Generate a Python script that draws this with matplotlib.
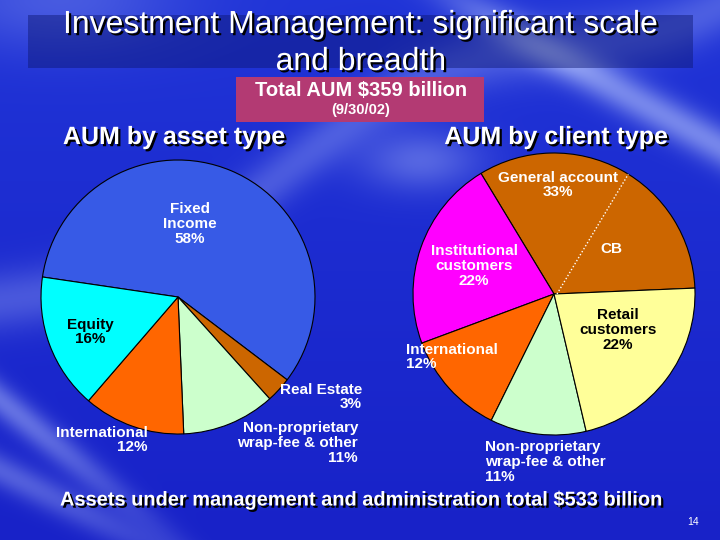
import numpy as np
import matplotlib
matplotlib.use('Agg')
import matplotlib.pyplot as plt
import matplotlib.patheffects as pe
from matplotlib.patches import Rectangle

# ---------------- data ----------------
asset_labels = ['Fixed\nIncome', 'Real Estate', 'Non-proprietary\nwrap-fee & other', 'International', 'Equity']
asset_values = [58, 3, 11, 12, 16]
asset_colors = ['#375AE6', '#CC6600', '#CCFFCC', '#FF6600', '#00FFFF']

client_labels = ['General account', 'Institutional\ncustomers', 'International',
                 'Non-proprietary\nwrap-fee & other', 'Retail\ncustomers']
client_values = [33, 22, 12, 11, 22]
client_colors = ['#CC6600', '#FF00FF', '#FF6600', '#CCFFCC', '#FFFF99']
cb_share = 15.5   # part of general account shown as CB (dotted split)

title_lines = ['Investment Management: significant scale', 'and breadth']
box_title = 'Total AUM $359 billion'
box_sub = '(9/30/02)'
left_title = 'AUM by asset type'
right_title = 'AUM by client type'
footer = 'Assets under management and administration total $533 billion'
page_no = '14'

FONT = 'Liberation Sans'
W, H = 720, 540

fig = plt.figure(figsize=(7.2, 5.4), dpi=100)
ax = fig.add_axes([0, 0, 1, 1])

# ---------------- background (decorative gradient) ----------------
yy, xx = np.mgrid[0:H, 0:W].astype(float)
base = np.zeros((H, W, 3))
t = yy / H
base[..., 0] = 32 - 8 * t
base[..., 1] = 52 - 18 * t
base[..., 2] = 215 - 15 * t
light = np.zeros((H, W))

def band(cx_fn, width, strength, mask=1.0):
    d = yy - cx_fn(xx)
    return strength * np.exp(-(d / width) ** 2) * mask

# top-right diagonal streak
light += band(lambda x: -250 + 0.55 * x, 22, 0.55, 1 / (1 + np.exp(-(xx - 460) / 30)))
# streak across middle behind headers
light += band(lambda x: 300 - 0.45 * x + 30 * np.sin(x / 90.0), 30, 0.28)
light += 0.35 * np.exp(-(((xx - 420) / 60) ** 2 + ((yy - 160) / 30) ** 2))
# lower-left streaks (fade out smoothly to the right)
light += band(lambda x: 400 + 0.8 * x, 20, 0.45, np.exp(-(xx / 140) ** 2))
light += band(lambda x: 470 + 0.5 * x, 18, 0.35, np.exp(-(xx / 170) ** 2))
# top-left glow
light += 0.25 * np.exp(-(((xx - 60) / 120) ** 2 + ((yy - 0) / 50) ** 2))
light = np.clip(light, 0, 1)
white = np.array([190, 205, 255.0])
bg = base * (1 - light[..., None]) + white * light[..., None]
bg = np.clip(bg / 255.0, 0, 1)
ax.imshow(bg, extent=[0, W, 0, H], origin='upper', aspect='auto', zorder=0)

def Y(y):
    return H - y

shadow = [pe.SimplePatchShadow(offset=(1.6, -1.6), shadow_rgbFace='black', alpha=1.0), pe.Normal()]

def txt(x, y, s, size, color='white', weight='bold', ha='center', va='center', shad=False, ls=1.05):
    ax.text(x, Y(y), s, fontsize=size, color=color, fontweight=weight, ha=ha, va=va,
            family=FONT, linespacing=ls, zorder=10,
            path_effects=shadow if shad else None)

# ---------------- title band ----------------
ax.add_patch(Rectangle((28, Y(68)), 665, 53, facecolor='#0c1670', alpha=0.45, edgecolor='none', zorder=1))
txt(361, 25, title_lines[0], 23, weight='normal', shad=True)
txt(361, 62, title_lines[1], 23, weight='normal', shad=True)

# pink box
ax.add_patch(Rectangle((236, Y(122)), 248, 45, facecolor='#B33A73', edgecolor='none', zorder=2))
txt(361, 91, box_title, 14.5)
txt(361, 110, box_sub, 10.5)

txt(174, 137, left_title, 18, shad=True)
txt(556, 137, right_title, 18, shad=True)

# ---------------- pies ----------------
wp = dict(edgecolor='black', linewidth=0.8)
ax.pie(asset_values, colors=asset_colors, center=(178, Y(297)), radius=137,
       startangle=171.6, counterclock=False, wedgeprops=wp, frame=True)
ax.pie(client_values, colors=client_colors, center=(554, Y(294)), radius=141,
       startangle=2.4, counterclock=True, wedgeprops=wp, frame=True)

# dotted CB split line within general account
ang = np.deg2rad(2.4 + cb_share * 3.6)
cx, cy, r = 554, Y(294), 141
ax.plot([cx + 3, cx + r * np.cos(ang)], [cy, cy + r * np.sin(ang)],
        color='white', linestyle=(0, (1, 1.5)), linewidth=1.0, zorder=5)

# ---------------- labels: left pie ----------------
txt(190, 224, asset_labels[0] + '\n%d%%' % asset_values[0], 11)
txt(362, 397, asset_labels[1] + '\n%d%%' % asset_values[1], 11, ha='right')
txt(358, 443, asset_labels[2] + '\n%d%%' % asset_values[2], 11, ha='right')
txt(148, 440, asset_labels[3] + '\n%d%%' % asset_values[3], 11, ha='right')
txt(90, 332, asset_labels[4] + '\n%d%%' % asset_values[4], 11, color='black')

# ---------------- labels: right pie ----------------
txt(558, 185, client_labels[0] + '\n%d%%' % client_values[0], 11)
txt(611, 249, 'CB', 11)
txt(474, 266, client_labels[1] + '\n%d%%' % client_values[1], 11)
txt(406, 357, client_labels[2] + '\n%d%%' % client_values[2], 11, ha='left')
txt(485, 462, client_labels[3] + '\n%d%%' % client_values[3], 11, ha='left')
txt(618, 330, client_labels[4] + '\n%d%%' % client_values[4], 11, color='black')

# ---------------- footer ----------------
txt(361, 500, footer, 14.4, shad=True)
txt(693, 522, page_no, 7.5, weight='normal')

ax.set_xlim(0, W)
ax.set_ylim(0, H)
ax.set_aspect('auto')
ax.axis('off')
fig.savefig('out.png', dpi=100)
